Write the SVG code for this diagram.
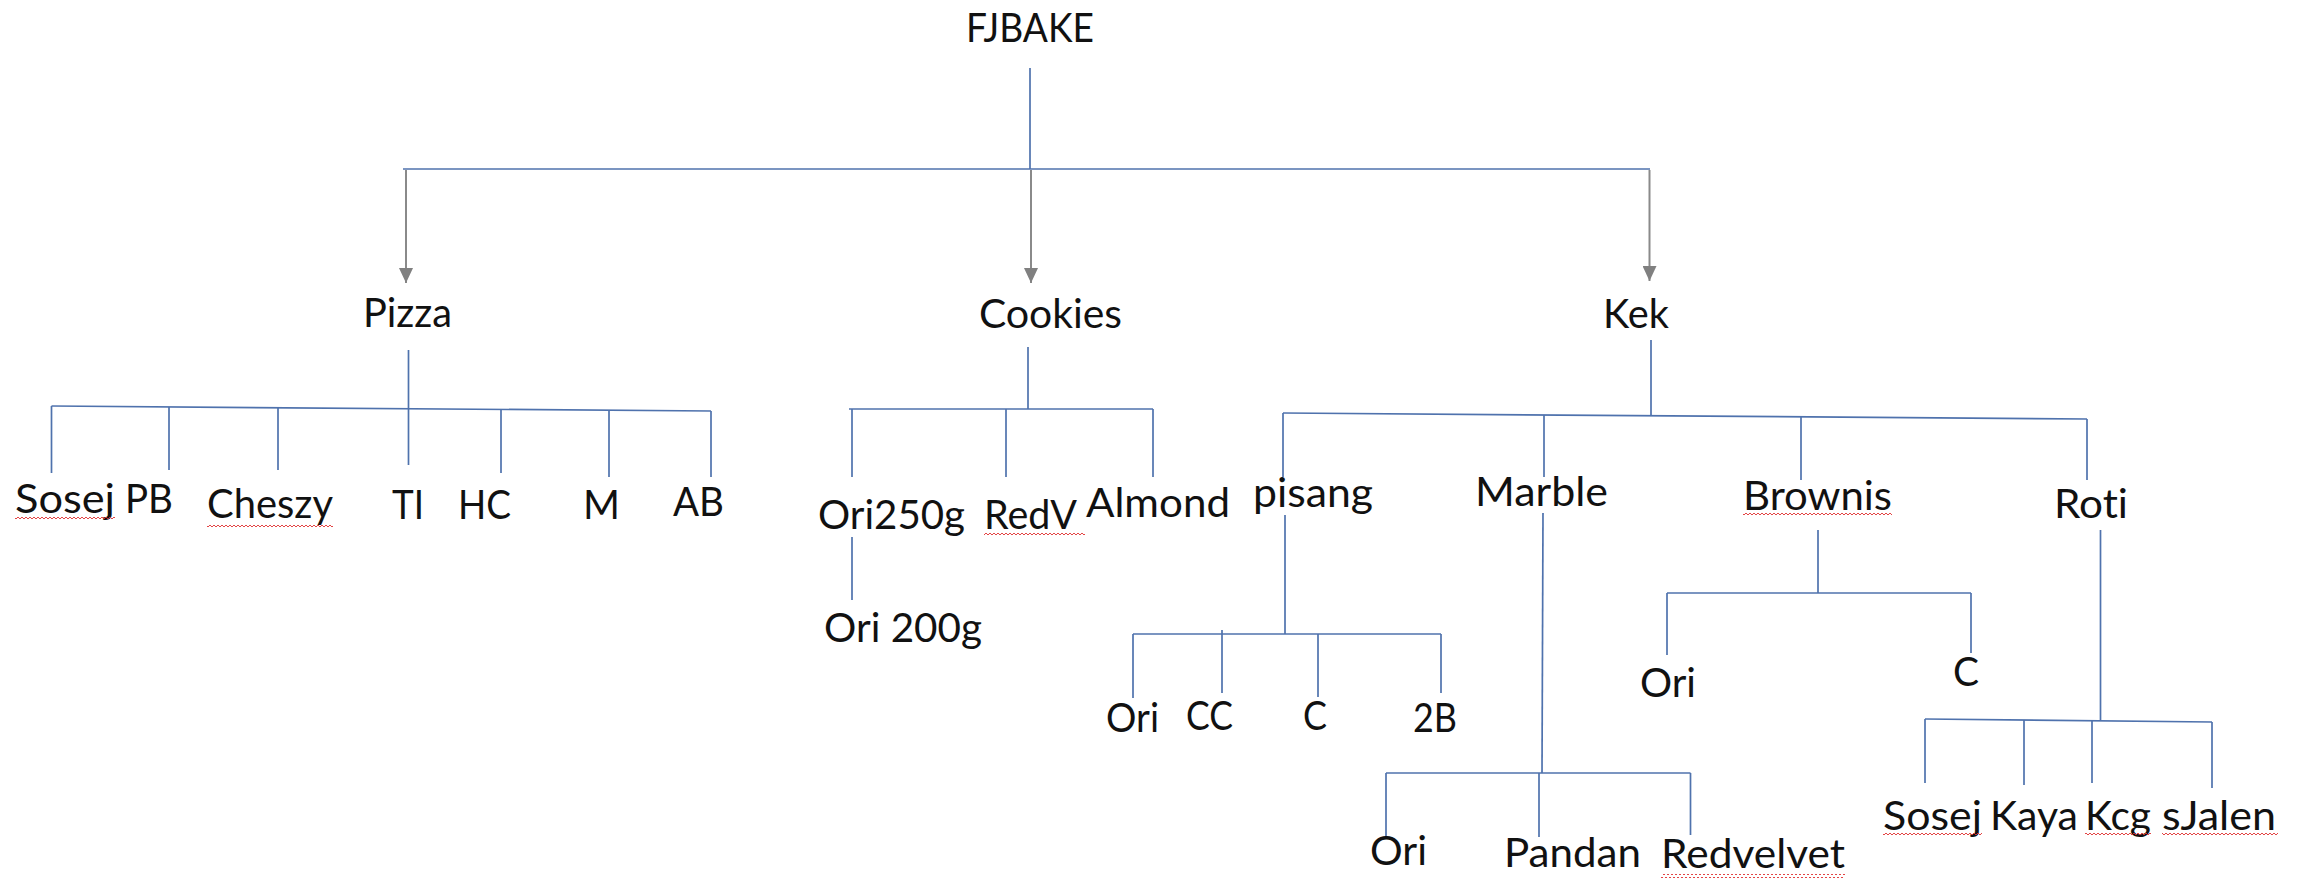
<svg xmlns="http://www.w3.org/2000/svg" width="2299" height="879" viewBox="0 0 2299 879">
<style>
  text { font-family: Lato, "Open Sans", "Liberation Sans", sans-serif; font-size: 40px; fill: #111; font-variant-ligatures: none; font-feature-settings: "liga" 0; }
  .ln { stroke: #4f72ad; stroke-width: 1.7; fill: none; }
  .ar { stroke: #8a8a8a; stroke-width: 2; fill: none; }
  .sq { fill: url(#squiggle); }
</style>
<defs>
  <marker id="arrow" markerUnits="userSpaceOnUse" markerWidth="16" markerHeight="14" refX="15" refY="7" orient="auto">
    <path d="M0,0 L15,7 L0,14 z" fill="#808080"/>
  </marker>
  <pattern id="squiggle" patternUnits="userSpaceOnUse" width="4" height="4">
    <polyline points="0,3 2,1 4,3" fill="none" stroke="#e03030" stroke-width="0.9"/>
  </pattern>
</defs>
<rect width="2299" height="879" fill="#ffffff"/>

<g id="connectors">
  <line class="ln" x1="1030" y1="68" x2="1030" y2="169"/>
  <line class="ln" x1="403" y1="169" x2="1650" y2="169"/>
  <line class="ar" x1="406" y1="170" x2="406" y2="283" marker-end="url(#arrow)"/>
  <line class="ar" x1="1031" y1="170" x2="1031" y2="283" marker-end="url(#arrow)"/>
  <line class="ar" x1="1649.5" y1="170" x2="1649.5" y2="281" marker-end="url(#arrow)"/>
  <line class="ln" x1="408.5" y1="350" x2="408.5" y2="465"/>
  <line class="ln" x1="51.5" y1="406" x2="711" y2="411"/>
  <line class="ln" x1="51.5" y1="406" x2="51.5" y2="473"/>
  <line class="ln" x1="169" y1="407" x2="169" y2="470"/>
  <line class="ln" x1="278" y1="408" x2="278" y2="470"/>
  <line class="ln" x1="501" y1="410" x2="501" y2="473"/>
  <line class="ln" x1="609" y1="410" x2="609" y2="477"/>
  <line class="ln" x1="711" y1="411" x2="711" y2="477"/>
  <line class="ln" x1="1028" y1="347" x2="1028" y2="409"/>
  <line class="ln" x1="849" y1="409" x2="1153" y2="409"/>
  <line class="ln" x1="852" y1="409" x2="852" y2="477"/>
  <line class="ln" x1="1006" y1="409" x2="1006" y2="477"/>
  <line class="ln" x1="1153" y1="409" x2="1153" y2="477"/>
  <line class="ln" x1="852" y1="537" x2="852" y2="600"/>
  <line class="ln" x1="1651" y1="340" x2="1651" y2="416"/>
  <line class="ln" x1="1283" y1="413" x2="2087" y2="419"/>
  <line class="ln" x1="1283" y1="413" x2="1283" y2="477"/>
  <line class="ln" x1="1544" y1="415" x2="1544" y2="477"/>
  <line class="ln" x1="1801" y1="416" x2="1801" y2="480"/>
  <line class="ln" x1="2087" y1="419" x2="2087" y2="480"/>
  <line class="ln" x1="1285" y1="515" x2="1285" y2="634"/>
  <line class="ln" x1="1133" y1="634" x2="1441" y2="634"/>
  <line class="ln" x1="1133" y1="634" x2="1133" y2="698"/>
  <line class="ln" x1="1222" y1="630" x2="1222" y2="693"/>
  <line class="ln" x1="1318" y1="634" x2="1318" y2="697"/>
  <line class="ln" x1="1441" y1="634" x2="1441" y2="693"/>
  <line class="ln" x1="1543" y1="513" x2="1542" y2="773"/>
  <line class="ln" x1="1386" y1="773" x2="1690.5" y2="773"/>
  <line class="ln" x1="1386" y1="773" x2="1386" y2="837"/>
  <line class="ln" x1="1539" y1="773" x2="1539" y2="837"/>
  <line class="ln" x1="1690.5" y1="773" x2="1690.5" y2="835"/>
  <line class="ln" x1="1818" y1="530" x2="1818" y2="593"/>
  <line class="ln" x1="1667" y1="593" x2="1971" y2="593"/>
  <line class="ln" x1="1667" y1="593" x2="1667" y2="655"/>
  <line class="ln" x1="1971" y1="593" x2="1971" y2="653"/>
  <line class="ln" x1="2100.5" y1="530" x2="2100.5" y2="720"/>
  <line class="ln" x1="1925" y1="719" x2="2212" y2="722"/>
  <line class="ln" x1="1925" y1="719" x2="1925" y2="783"/>
  <line class="ln" x1="2024" y1="720" x2="2024" y2="785"/>
  <line class="ln" x1="2092" y1="721" x2="2092" y2="783"/>
  <line class="ln" x1="2212" y1="722" x2="2212" y2="788"/>
</g>

<g id="n-fjbake"><text x="966" y="42" textLength="128" lengthAdjust="spacingAndGlyphs">FJBAKE</text></g>
<g id="n-pizza"><text x="363" y="327" textLength="89" lengthAdjust="spacingAndGlyphs">Pizza</text></g>
<g id="n-cookies"><text x="979" y="328" textLength="143" lengthAdjust="spacingAndGlyphs">Cookies</text></g>
<g id="n-kek"><text x="1603" y="328" textLength="66" lengthAdjust="spacingAndGlyphs">Kek</text></g>

<g id="n-pizza-sosej"><text x="15" y="513" textLength="100" lengthAdjust="spacingAndGlyphs">Sosej</text><rect class="sq" x="15" y="517" width="100" height="4"/></g>
<g id="n-pizza-pb"><text x="125" y="513" textLength="48" lengthAdjust="spacingAndGlyphs">PB</text></g>
<g id="n-pizza-cheszy"><text x="207" y="518" textLength="126" lengthAdjust="spacingAndGlyphs">Cheszy</text><rect class="sq" x="207" y="524" width="126" height="4"/></g>
<g id="n-pizza-ti"><text x="392" y="519" textLength="32" lengthAdjust="spacingAndGlyphs">TI</text></g>
<g id="n-pizza-hc"><text x="458" y="519" textLength="53" lengthAdjust="spacingAndGlyphs">HC</text></g>
<g id="n-pizza-m"><text x="583" y="519" textLength="37" lengthAdjust="spacingAndGlyphs">M</text></g>
<g id="n-pizza-ab"><text x="673" y="516" textLength="51" lengthAdjust="spacingAndGlyphs">AB</text></g>

<g id="n-ori250"><text x="818" y="529" textLength="147" lengthAdjust="spacingAndGlyphs">Ori250g</text></g>
<g id="n-redv"><text x="984" y="529" textLength="93" lengthAdjust="spacingAndGlyphs">RedV</text><rect class="sq" x="984" y="532" width="101" height="4"/></g>
<g id="n-almond"><text x="1086" y="517" textLength="144" lengthAdjust="spacingAndGlyphs">Almond</text></g>
<g id="n-ori200"><text x="824" y="642" textLength="158" lengthAdjust="spacingAndGlyphs">Ori 200g</text></g>

<g id="n-pisang"><text x="1253" y="507" textLength="120" lengthAdjust="spacingAndGlyphs">pisang</text></g>
<g id="n-marble"><text x="1475" y="506" textLength="133" lengthAdjust="spacingAndGlyphs">Marble</text></g>
<g id="n-brownis"><text x="1743" y="510" textLength="149" lengthAdjust="spacingAndGlyphs">Brownis</text><rect class="sq" x="1743" y="513" width="149" height="4"/></g>
<g id="n-roti"><text x="2054" y="518" textLength="74" lengthAdjust="spacingAndGlyphs">Roti</text></g>

<g id="n-pisang-ori"><text x="1106" y="732" textLength="53" lengthAdjust="spacingAndGlyphs">Ori</text></g>
<g id="n-pisang-cc"><text x="1186" y="730" textLength="47" lengthAdjust="spacingAndGlyphs">CC</text></g>
<g id="n-pisang-c"><text x="1303" y="730" textLength="24" lengthAdjust="spacingAndGlyphs">C</text></g>
<g id="n-pisang-2b"><text x="1413" y="732" textLength="44" lengthAdjust="spacingAndGlyphs">2B</text></g>

<g id="n-marble-ori"><text x="1370" y="865" textLength="57" lengthAdjust="spacingAndGlyphs">Ori</text></g>
<g id="n-marble-pandan"><text x="1504" y="867" textLength="137" lengthAdjust="spacingAndGlyphs">Pandan</text></g>
<g id="n-marble-redvelvet"><text x="1661" y="868" textLength="184" lengthAdjust="spacingAndGlyphs">Redvelvet</text><rect class="sq" x="1661" y="874" width="184" height="4"/></g>

<g id="n-brownis-ori"><text x="1640" y="697" textLength="56" lengthAdjust="spacingAndGlyphs">Ori</text></g>
<g id="n-brownis-c"><text x="1953" y="686" textLength="26" lengthAdjust="spacingAndGlyphs">C</text></g>

<g id="n-roti-sosej"><text x="1883" y="830" textLength="99" lengthAdjust="spacingAndGlyphs">Sosej</text><rect class="sq" x="1883" y="833" width="99" height="4"/></g>
<g id="n-roti-kaya"><text x="1990" y="830" textLength="88" lengthAdjust="spacingAndGlyphs">Kaya</text></g>
<g id="n-roti-kcg"><text x="2085" y="830" textLength="66" lengthAdjust="spacingAndGlyphs">Kcg</text><rect class="sq" x="2085" y="833" width="66" height="4"/></g>
<g id="n-roti-sjalen"><text x="2162" y="830" textLength="114" lengthAdjust="spacingAndGlyphs">sJalen</text><rect class="sq" x="2162" y="833" width="116" height="4"/></g>
</svg>
